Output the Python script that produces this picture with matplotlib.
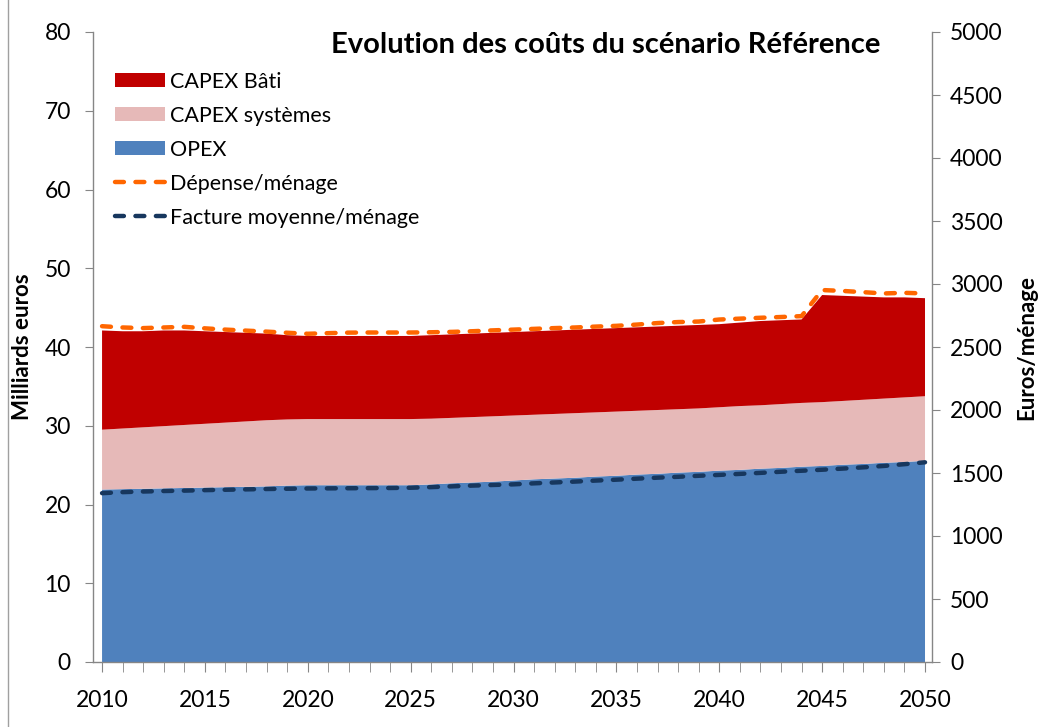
import matplotlib
matplotlib.use("Agg")
import matplotlib.pyplot as plt
import numpy as np
from matplotlib.lines import Line2D
from matplotlib.patches import Patch

plt.rcParams['font.family'] = ['Lato', 'DejaVu Sans']

years = list(range(2010, 2051))

opex = [21.9, 21.95, 22.0, 22.05, 22.1, 22.15, 22.2, 22.25, 22.3, 22.4, 22.45,
        22.45, 22.45, 22.45, 22.45, 22.45, 22.55, 22.7, 22.8, 22.9, 23.05,
        23.2, 23.3, 23.4, 23.55, 23.65, 23.8, 23.9, 24.05, 24.15, 24.3,
        24.4, 24.55, 24.65, 24.8, 24.9, 25.05, 25.15, 25.3, 25.4, 25.55]

capex_sys = [7.6, 7.7, 7.8, 7.9, 8.0, 8.1, 8.2, 8.3, 8.4, 8.4, 8.4,
             8.4, 8.4, 8.4, 8.4, 8.4, 8.35, 8.3, 8.3, 8.3, 8.25,
             8.2, 8.2, 8.2, 8.15, 8.15, 8.1, 8.1, 8.05, 8.05, 8.05,
             8.1, 8.05, 8.1, 8.1, 8.1, 8.1, 8.15, 8.15, 8.2, 8.2]

capex_bati = [12.6, 12.35, 12.2, 12.15, 12.0, 11.75, 11.5, 11.25, 11.0, 10.7, 10.55,
              10.55, 10.55, 10.55, 10.55, 10.55, 10.6, 10.6, 10.6, 10.6, 10.6,
              10.6, 10.6, 10.6, 10.6, 10.6, 10.6, 10.6, 10.6, 10.6, 10.55,
              10.6, 10.7, 10.65, 10.6, 13.6, 13.35, 13.1, 12.85, 12.7, 12.45]

depense_menage = [2665, 2655, 2650, 2655, 2660, 2648, 2638, 2630, 2622, 2613, 2605,
                  2610, 2614, 2615, 2615, 2615, 2617, 2620, 2625, 2632, 2638,
                  2644, 2650, 2655, 2662, 2668, 2678, 2690, 2698, 2702, 2718,
                  2725, 2732, 2738, 2745, 2952, 2945, 2935, 2925, 2930, 2925]

facture_menage = [1340, 1348, 1353, 1357, 1360, 1364, 1367, 1370, 1373, 1375, 1377,
                  1378, 1379, 1380, 1381, 1383, 1388, 1394, 1400, 1405, 1410,
                  1418, 1425, 1432, 1440, 1447, 1455, 1463, 1470, 1478, 1485,
                  1493, 1501, 1510, 1518, 1526, 1535, 1545, 1556, 1570, 1585]

labels = ['CAPEX Bâti', 'CAPEX systèmes', 'OPEX', 'Dépense/ménage', 'Facture moyenne/ménage']
c_bati, c_sys, c_opex = '#C00000', '#E6B9B8', '#4F81BD'
c_dep, c_fac = '#FF6600', '#17375E'
gray = '#868686'

W, H = 1043, 727
fig = plt.figure(figsize=(W / 100, H / 100), dpi=100)
L, R, B, T = 93, 932, 662, 32
ax = fig.add_axes([L / W, 1 - B / H, (R - L) / W, (B - T) / H])
ax2 = ax.twinx()

ax.stackplot(years, opex, capex_sys, capex_bati, colors=[c_opex, c_sys, c_bati],
             linewidth=0)
dash = (2, 2.6)
ax2.plot(years, depense_menage, color=c_dep, lw=3.2, dashes=dash,
         dash_capstyle='round', solid_capstyle='round')
ax2.plot(years, facture_menage, color=c_fac, lw=3.2, dashes=dash,
         dash_capstyle='round', solid_capstyle='round')

ax.set_xlim(2009.56, 2050.34)
ax.set_ylim(0, 80)
ax2.set_ylim(0, 5000)
ax.set_yticks(range(0, 81, 10))
ax2.set_yticks(range(0, 5001, 500))
ax.set_xticks(range(2010, 2051, 5))
ax.set_xticks(years, minor=True)

for a in (ax, ax2):
    a.spines['top'].set_visible(False)
    for s in ('left', 'right', 'bottom'):
        a.spines[s].set_color(gray)
        a.spines[s].set_linewidth(1.0)
ax.spines['right'].set_visible(False)
ax2.spines['left'].set_visible(False)
ax2.spines['bottom'].set_visible(False)

fs = 16.5
ax.tick_params(axis='y', direction='out', length=6, color=gray, labelsize=fs, pad=10)
ax2.tick_params(axis='y', direction='out', length=6, color=gray, labelsize=fs, pad=7)
ax.tick_params(axis='x', which='both', direction='out', length=7, color=gray,
               labelsize=fs, pad=13)

ax.set_ylabel('Milliards euros', fontsize=16, fontweight='bold', labelpad=8)
ax2.set_ylabel('Euros/ménage', fontsize=16, fontweight='bold', labelpad=10)

fig.text(606 / W, 1 - 45 / H, 'Evolution des coûts du scénario Référence',
         ha='center', va='center', fontsize=21, fontweight='bold')

lfs = 15.5
handles = [Patch(facecolor=c_bati, edgecolor='none'),
           Patch(facecolor=c_sys, edgecolor='none'),
           Patch(facecolor=c_opex, edgecolor='none'),
           Line2D([], [], color=c_dep, lw=3.2, dashes=dash, dash_capstyle='round'),
           Line2D([], [], color=c_fac, lw=3.2, dashes=dash, dash_capstyle='round')]
leg = ax2.legend(handles, labels, loc='upper left', bbox_to_anchor=(0.026, 0.937),
                 frameon=False, fontsize=lfs, handlelength=2.33, handleheight=0.6,
                 handletextpad=0.25, labelspacing=0.65, borderaxespad=0,
                 borderpad=0)

fig.add_artist(Line2D([7.5 / W, 7.5 / W], [0, 1], color='#A0A0A0', lw=1))

fig.savefig('out.png', dpi=100)
